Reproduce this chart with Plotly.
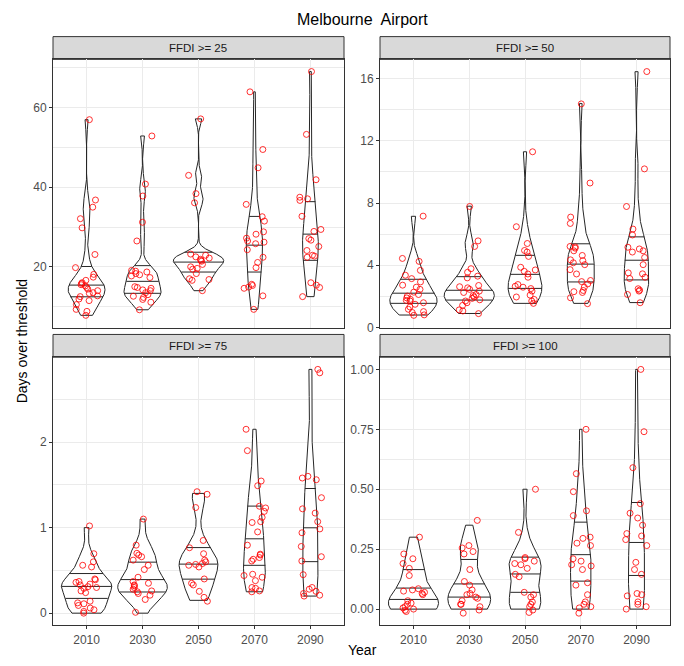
import numpy as np
import plotly.graph_objects as go

years = ["2010", "2030", "2050", "2070", "2090"]
panel_titles = ["FFDI >= 25", "FFDI >= 50", "FFDI >= 75", "FFDI >= 100"]

# ---- FFDI >= 25 ----
f25_2010 = [57.0, 36.8, 35.0, 32.1, 29.8, 23.1, 19.8, 18.1, 17.4, 16.6, 16.0, 15.8, 15.5, 15.2,
            14.8, 14.4, 14.0, 13.5, 13.3, 12.7, 12.5, 11.9, 11.5, 10.5, 9.3, 8.8, 7.8]
f25_2030 = [52.9, 40.8, 37.8, 31.2, 26.5, 19.1, 18.9, 18.7, 18.3, 18.0, 17.7, 17.3, 15.0, 14.8,
            14.6, 14.2, 14.0, 13.5, 13.0, 12.6, 12.3, 11.8, 11.1, 9.2]
f25_2050 = [57.2, 43.0, 38.4, 36.1, 23.2, 22.9, 22.5, 22.2, 21.9, 21.6, 21.4, 20.6, 20.0, 19.6,
            19.4, 18.3, 17.0, 16.8, 16.6, 14.0]
f25_2070 = [64.0, 49.5, 44.9, 35.7, 32.6, 31.5, 28.8, 28.2, 27.2, 26.5, 26.2, 25.8, 24.3, 22.4,
            21.1, 19.8, 15.6, 15.3, 14.9, 14.6, 12.7, 9.3]
f25_2090 = [69.1, 53.3, 41.9, 37.5, 37.1, 36.7, 32.7, 29.4, 28.9, 27.1, 26.7, 25.1, 24.1, 22.9,
            22.7, 22.4, 16.0, 15.4, 14.8, 12.5]

# ---- FFDI >= 50 ----
f50_2010 = [7.16, 4.44, 4.25, 3.67, 3.36, 3.14, 2.93, 2.72, 2.59, 2.45, 2.27, 2.12, 2.02, 1.90,
            1.81, 1.74, 1.70, 1.59, 1.49, 1.32, 1.17, 1.02, 0.96, 0.81, 0.78]
f50_2030 = [7.78, 5.57, 5.21, 3.78, 3.55, 3.30, 3.19, 2.70, 2.62, 2.55, 2.45, 2.34, 2.25, 2.12,
            2.05, 1.96, 1.87, 1.78, 1.70, 1.59, 1.42, 1.13, 1.06, 0.89]
f50_2050 = [11.30, 6.48, 5.40, 4.95, 4.85, 4.57, 3.87, 3.70, 3.61, 3.44, 3.23, 2.76, 2.65, 2.59,
            2.50, 2.34, 2.08, 1.96, 1.80, 1.70, 1.55]
f50_2070 = [14.38, 9.29, 7.10, 6.69, 5.21, 5.18, 5.10, 4.93, 4.63, 4.35, 4.30, 4.16, 4.04, 3.72,
            3.44, 3.02, 2.95, 2.80, 2.59, 2.38, 2.30, 2.25, 1.91, 1.53]
f50_2090 = [16.46, 10.20, 7.78, 6.33, 5.95, 5.16, 5.05, 4.93, 4.85, 4.50, 4.04, 3.51, 3.45, 3.23,
            3.15, 2.49, 2.40, 2.34, 2.12, 1.59]

# ---- FFDI >= 75 ----
f75_2010 = [1.02, 0.695, 0.60, 0.56, 0.54, 0.40, 0.39, 0.37, 0.36, 0.34, 0.33, 0.31, 0.30, 0.29,
            0.26, 0.24, 0.14, 0.12, 0.11, 0.09, 0.06, 0.04, 0.02, 0.00]
f75_2030 = [1.10, 0.795, 0.70, 0.68, 0.66, 0.62, 0.56, 0.51, 0.42, 0.37, 0.35, 0.33, 0.32, 0.30,
            0.28, 0.26, 0.25, 0.23, 0.21, 0.16, 0.01]
f75_2050 = [1.42, 1.39, 1.235, 0.85, 0.765, 0.695, 0.62, 0.60, 0.58, 0.57, 0.56, 0.54, 0.40, 0.35,
            0.33, 0.255, 0.185, 0.14]
f75_2070 = [2.15, 1.90, 1.545, 1.49, 1.25, 1.23, 1.19, 1.12, 1.07, 1.06, 0.95, 0.795, 0.69, 0.68,
            0.65, 0.63, 0.61, 0.455, 0.44, 0.42, 0.38, 0.30, 0.29, 0.26, 0.25]
f75_2090 = [2.85, 2.81, 1.60, 1.58, 1.56, 1.35, 1.22, 1.17, 1.07, 0.985, 0.94, 0.78, 0.66, 0.61,
            0.45, 0.30, 0.28, 0.255, 0.23, 0.21, 0.20]

# ---- FFDI >= 100 ----
f100_2010 = [0.30, 0.23, 0.21, 0.19, 0.17, 0.14, 0.085, 0.08, 0.075, 0.07, 0.065, 0.06, 0.035,
             0.025, 0.02, 0.01, 0.005, 0.0, -0.005, -0.01]
f100_2030 = [0.37, 0.265, 0.255, 0.24, 0.23, 0.165, 0.115, 0.10, 0.08, 0.065, 0.06, 0.05, 0.045,
             0.035, 0.02, 0.02, 0.01, -0.004, -0.017]
f100_2050 = [0.50, 0.32, 0.215, 0.21, 0.20, 0.19, 0.185, 0.17, 0.145, 0.135, 0.07, 0.06, 0.05,
             0.03, 0.02, 0.01, -0.004, -0.014]
f100_2070 = [0.75, 0.565, 0.49, 0.41, 0.39, 0.30, 0.295, 0.275, 0.265, 0.21, 0.20, 0.185, 0.18,
             0.165, 0.11, 0.10, 0.06, 0.03, 0.02, 0.01, 0.005, -0.017]
f100_2090 = [1.00, 0.74, 0.59, 0.44, 0.40, 0.38, 0.35, 0.315, 0.305, 0.29, 0.265, 0.195, 0.165,
             0.145, 0.065, 0.06, 0.055, 0.03, 0.02, 0.01, 0.0]

panel_data = [
    [f25_2010, f25_2030, f25_2050, f25_2070, f25_2090],
    [f50_2010, f50_2030, f50_2050, f50_2070, f50_2090],
    [f75_2010, f75_2030, f75_2050, f75_2070, f75_2090],
    [f100_2010, f100_2030, f100_2050, f100_2070, f100_2090],
]
y_dticks = [20, 4, 1, 0.25]
y_formats = ["", "", "", ".2f"]

DATA_RES = 0.05  # values are 20-year means of day counts -> multiples of 1/20
W, H = 684, 666
dom_x = [[53 / W, 344 / W], [380 / W, 670 / W], [53 / W, 344 / W], [380 / W, 670 / W]]
dom_y = [[1 - 331 / H, 1 - 60 / H], [1 - 331 / H, 1 - 60 / H],
         [1 - 632 / H, 1 - 361 / H], [1 - 632 / H, 1 - 361 / H]]
STRIP_H = 23 / H
FONT = "Liberation Sans, Arial, sans-serif"
JITTER_W = 0.2  # horizontal jitter half-width, like geom_jitter(width = 0.2)
rng = np.random.default_rng(7)


def kde(vals):
    # points carry vertical jitter; the violin uses the underlying values
    v = np.clip(np.round(np.asarray(vals, float) / DATA_RES) * DATA_RES, 0, None)
    n = len(v)
    sd = v.std(ddof=1)
    q75, q25 = np.percentile(v, [75, 25])
    lo = min(sd, (q75 - q25) / 1.34)
    if lo <= 0:
        lo = sd if sd > 0 else 1.0
    bw = 0.9 * lo * n ** -0.2
    ys = np.linspace(v.min(), v.max(), 512)
    dens = np.exp(-0.5 * ((ys[:, None] - v[None, :]) / bw) ** 2).sum(1) / (n * bw * np.sqrt(2 * np.pi))
    return ys, dens


fig = go.Figure()

for p, groups in enumerate(panel_data):
    ax = "" if p == 0 else str(p + 1)
    xref, yref = "x" + ax, "y" + ax
    kdes = [kde(g) for g in groups]
    maxd = max(d.max() for _, d in kdes)
    for i, (g, (ys, d)) in enumerate(zip(groups, kdes)):
        c = i + 1
        w = d / maxd * 0.45
        xs = np.concatenate([c - w, (c + w)[::-1], [c - w[0]]])
        yy = np.concatenate([ys, ys[::-1], [ys[0]]])
        fig.add_trace(go.Scatter(x=xs, y=yy, mode="lines", fill="toself",
                                 fillcolor="white", line=dict(color="#262626", width=1),
                                 xaxis=xref, yaxis=yref, showlegend=False, hoverinfo="skip"))
        ecdf = np.cumsum(d) / d.sum()
        qx, qy = [], []
        for q in (0.25, 0.5, 0.75):
            yq = np.interp(q, ecdf, ys)
            wq = np.interp(yq, ys, w)
            qx += [c - wq, c + wq, None]
            qy += [yq, yq, None]
        fig.add_trace(go.Scatter(x=qx, y=qy, mode="lines", line=dict(color="#262626", width=1),
                                 xaxis=xref, yaxis=yref, showlegend=False, hoverinfo="skip"))
    for i, g in enumerate(groups):
        jit = rng.uniform(-JITTER_W, JITTER_W, len(g))
        fig.add_trace(go.Scatter(x=(i + 1) + jit, y=g, mode="markers",
                                 marker=dict(symbol="circle-open", size=6, color="rgba(255,0,0,0.8)",
                                             line=dict(width=1)),
                                 xaxis=xref, yaxis=yref, showlegend=False, hoverinfo="skip"))

    allv = np.concatenate([np.asarray(g, float) for g in groups])
    lo, hi = allv.min(), allv.max()
    pad = 0.05 * (hi - lo)
    bottom = p >= 2
    fig.layout["xaxis" + ax] = dict(
        domain=dom_x[p], anchor=yref, range=[0.4, 5.6],
        tickvals=[1, 2, 3, 4, 5], ticktext=years, showticklabels=bottom,
        ticks="outside" if bottom else "", ticklen=3, tickcolor="#333333",
        tickfont=dict(family=FONT, size=12, color="#4d4d4d"),
        showgrid=True, gridcolor="#ebebeb", gridwidth=1, zeroline=False,
        showline=True, mirror=True, linecolor="#333333", linewidth=1)
    fig.layout["yaxis" + ax] = dict(
        domain=dom_y[p], anchor=xref, range=[lo - pad, hi + pad],
        tick0=0, dtick=y_dticks[p], tickformat=y_formats[p],
        ticks="outside", ticklen=3, tickcolor="#333333",
        tickfont=dict(family=FONT, size=12, color="#4d4d4d"),
        showgrid=True, gridcolor="#ebebeb", gridwidth=1, zeroline=False,
        minor=dict(dtick=y_dticks[p] / 2, showgrid=True, gridcolor="#ebebeb", gridwidth=0.6, ticks=""),
        showline=True, mirror=True, linecolor="#333333", linewidth=1)

    fig.add_shape(type="rect", xref="paper", yref="paper",
                  x0=dom_x[p][0], x1=dom_x[p][1], y0=dom_y[p][1], y1=dom_y[p][1] + STRIP_H,
                  fillcolor="#d9d9d9", line=dict(color="#333333", width=1), layer="below")
    fig.add_annotation(text=panel_titles[p], xref="paper", yref="paper",
                       x=(dom_x[p][0] + dom_x[p][1]) / 2, y=dom_y[p][1] + STRIP_H / 2,
                       xanchor="center", yanchor="middle",
                       showarrow=False, font=dict(family=FONT, size=11.5, color="#1a1a1a"))

fig.add_annotation(text="Melbourne  Airport", xref="paper", yref="paper", x=362 / W, y=1 - 20 / H,
                   xanchor="center", yanchor="middle",
                   showarrow=False, font=dict(family=FONT, size=16, color="black"))
fig.add_annotation(text="Year", xref="paper", yref="paper", x=362 / W, y=1 - 657 / H,
                   xanchor="center", yanchor="middle",
                   showarrow=False, font=dict(family=FONT, size=14, color="black"))
fig.add_annotation(text="Days over threshold", xref="paper", yref="paper", x=22 / W, y=1 - 345 / H,
                   xanchor="center", yanchor="middle",
                   textangle=-90, showarrow=False, font=dict(family=FONT, size=14, color="black"))

fig.update_layout(width=W, height=H, autosize=False, margin=dict(l=0, r=0, t=0, b=0, pad=0),
                  paper_bgcolor="white", plot_bgcolor="white",
                  font=dict(family=FONT))
fig.write_html("out.html", config={"responsive": False},
               post_script="document.body.style.margin='0px';"
                           "document.documentElement.style.overflow='hidden';")
